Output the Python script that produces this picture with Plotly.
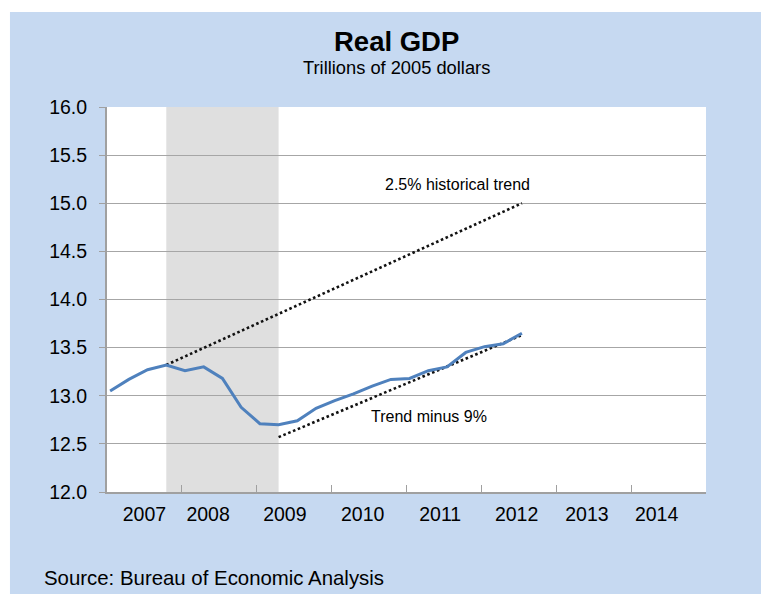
import plotly.graph_objects as go

# ---- data ----
quarters = ["2007Q1", "2007Q2", "2007Q3", "2007Q4",
            "2008Q1", "2008Q2", "2008Q3", "2008Q4",
            "2009Q1", "2009Q2", "2009Q3", "2009Q4",
            "2010Q1", "2010Q2", "2010Q3", "2010Q4",
            "2011Q1", "2011Q2", "2011Q3", "2011Q4",
            "2012Q1", "2012Q2", "2012Q3"]
real_gdp = [13.05, 13.17, 13.27, 13.32,
            13.26, 13.30, 13.18, 12.88,
            12.71, 12.70, 12.74, 12.87,
            12.95, 13.02, 13.10, 13.17,
            13.18, 13.26, 13.30, 13.45,
            13.51, 13.54, 13.65]

hist_trend_q = ["2007Q4", "2012Q3"]
hist_trend_v = [13.32, 15.00]
minus9_q = ["2009Q2", "2012Q3"]
minus9_v = [12.57, 13.63]

recession = ["2007Q4", "2009Q2"]

year_labels = ["2007", "2008", "2009", "2010", "2011", "2012", "2013", "2014"]
year_label_pos = [2007.50, 2008.35, 2009.375, 2010.415, 2011.45, 2012.47, 2013.41, 2014.34]
year_bounds = [2008, 2009, 2010, 2011, 2012, 2013, 2014]
y_ticks = [12.0, 12.5, 13.0, 13.5, 14.0, 14.5, 15.0, 15.5, 16.0]


def qpos(q):
    """Quarter label -> decimal year (middle of the quarter's first month)."""
    y, n = int(q[:4]), int(q[-1])
    return y + (3 * (n - 1) + 0.5) / 12.0


FONT = "Liberation Sans, Arial, sans-serif"
BLUE_BG = "#C6D9F1"
GRID = "#A6A6A6"

fig = go.Figure()

fig.add_trace(go.Scatter(
    x=[qpos(q) for q in hist_trend_q], y=hist_trend_v, mode="lines",
    line=dict(color="#111111", width=2.6, dash="2.6px,2.6px"),
    hoverinfo="skip", showlegend=False))
fig.add_trace(go.Scatter(
    x=[qpos(q) for q in minus9_q], y=minus9_v, mode="lines",
    line=dict(color="#111111", width=2.6, dash="2.6px,2.6px"),
    hoverinfo="skip", showlegend=False))
fig.add_trace(go.Scatter(
    x=[qpos(q) for q in quarters], y=real_gdp, mode="lines",
    line=dict(color="#4F81BD", width=3),
    showlegend=False, name="Real GDP"))

shapes = [
    # light-blue page background (white strip on top/left as in reference)
    dict(type="rect", xref="paper", yref="paper", x0=-0.162, x1=1.2, y0=-0.35, y1=1.2468,
         fillcolor=BLUE_BG, line=dict(width=0), layer="below"),
    dict(type="rect", xref="paper", yref="paper", x0=0, x1=1, y0=0, y1=1,
         fillcolor="white", line=dict(width=0), layer="below"),
    # recession shading
    dict(type="rect", xref="x", yref="y", x0=qpos(recession[0]), x1=qpos(recession[1]),
         y0=12, y1=16, fillcolor="#DFDFDF", line=dict(width=0), layer="below"),
]

annotations = [
    dict(text="<b>Real GDP</b>", xref="paper", yref="paper", x=0.4825, y=1.1714,
         xanchor="center", yanchor="middle", showarrow=False,
         font=dict(family=FONT, size=27.5, color="black")),
    dict(text="Trillions of 2005 dollars", xref="paper", yref="paper", x=0.4825, y=1.1013,
         xanchor="center", yanchor="middle", showarrow=False,
         font=dict(family=FONT, size=18.3, color="black")),
    dict(text="Source: Bureau of Economic Analysis", xref="paper", yref="paper",
         x=-0.109, y=-0.2234, xanchor="left", yanchor="middle", showarrow=False,
         font=dict(family=FONT, size=20.4, color="black")),
    dict(text="2.5% historical trend", xref="x", yref="y", x=2011.675, y=15.19,
         xanchor="center", yanchor="middle", showarrow=False,
         font=dict(family=FONT, size=16, color="black")),
    dict(text="Trend minus 9%", xref="x", yref="y", x=2011.30, y=12.78,
         xanchor="center", yanchor="middle", showarrow=False,
         font=dict(family=FONT, size=16, color="black")),
]

fig.update_layout(
    width=761, height=586,
    margin=dict(l=99, r=63, t=99, b=102),
    paper_bgcolor="white", plot_bgcolor="white",
    shapes=shapes, annotations=annotations,
    font=dict(family=FONT, color="black"),
    xaxis=dict(range=[2007, 2015], tickmode="array", tickvals=year_label_pos,
               ticktext=year_labels, ticks="", showgrid=False, zeroline=False,
               showline=True, linecolor="#A0A0A0", linewidth=2,
               tickfont=dict(family=FONT, size=19.5, color="black"),
               ticklabelstandoff=4,
               minor=dict(tickmode="array", tickvals=year_bounds, ticks="inside",
                          ticklen=7, tickcolor="#A0A0A0", tickwidth=1, showgrid=False),
               fixedrange=True),
    yaxis=dict(range=[12, 16], tickmode="array", tickvals=y_ticks, tickformat=".1f",
               ticks="outside", ticklen=6, tickcolor="#A0A0A0", tickwidth=1,
               showgrid=True, gridcolor=GRID, gridwidth=1, zeroline=False,
               showline=True, linecolor="#A0A0A0", linewidth=2,
               tickfont=dict(family=FONT, size=19.5, color="black"),
               ticklabelstandoff=8, fixedrange=True),
)

fig.write_html("out.html")
